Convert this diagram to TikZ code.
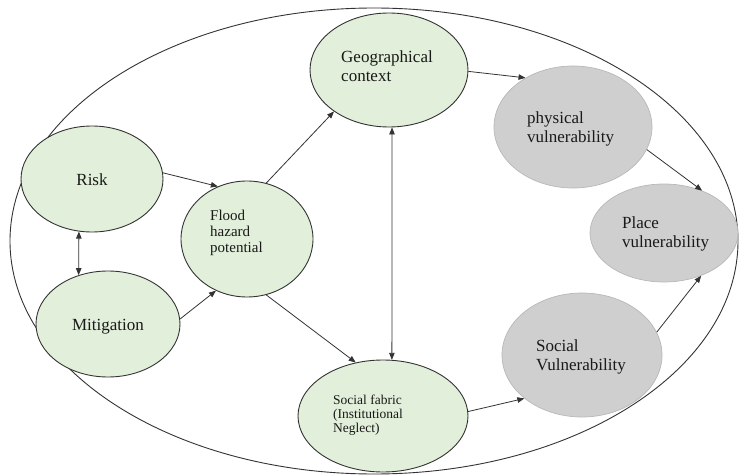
\documentclass[tikz,border=0pt]{standalone}
\usepackage{fontspec}
\setmainfont{Liberation Serif}
\usetikzlibrary{shapes.geometric,arrows.meta}
\definecolor{leaf}{HTML}{E2EFDA}
\definecolor{stone}{HTML}{CFCFCF}
\definecolor{stoneline}{HTML}{B8B8B8}
\definecolor{ink}{HTML}{333333}

\begin{document}
\begin{tikzpicture}[x=1pt,y=-1pt,
  greenbub/.style={ellipse, draw=ink, line width=0.9pt, fill=leaf, inner sep=0pt},
  greybub/.style={ellipse, draw=stoneline, line width=0.7pt, fill=stone, inner sep=0pt},
  lbl/.style={anchor=west, align=left, inner sep=0pt, text=black!90},
  big/.style={font=\fontsize{17}{18.5}\selectfont},
  mid/.style={font=\fontsize{15}{16}\selectfont},
  small/.style={font=\fontsize{13.5}{13.8}\selectfont},
  link/.style={draw=ink, line width=0.8pt, -{Triangle[length=7pt,width=5.5pt]}},
  twoway/.style={draw=ink, line width=0.8pt, {Triangle[length=7pt,width=5.5pt]}-{Triangle[length=7pt,width=5.5pt]}}
]
\useasboundingbox (0,0) rectangle (740,476);

% enclosing boundary
\draw[line width=0.9pt, ink] (374,241) ellipse [x radius=364, y radius=233];

% drivers
\node[greenbub, minimum width=142pt, minimum height=106pt] (risk) at (92,179) {};
\node[greenbub, minimum width=144pt, minimum height=106pt] (mit) at (108,324) {};
\node[greenbub, minimum width=132pt, minimum height=116pt] (flood) at (247,239) {};
\node[greenbub, minimum width=158pt, minimum height=114pt] (geo) at (389,70) {};
\node[greenbub, minimum width=170pt, minimum height=112pt] (fabric) at (383,416) {};

% vulnerabilities
\node[greybub, minimum width=158pt, minimum height=122pt] (phys) at (573,127) {};
\node[greybub, minimum width=160pt, minimum height=124pt] (socv) at (582,355) {};
\node[greybub, minimum width=148pt, minimum height=98pt] (place) at (664,233) {};

% labels
\node[big, inner sep=0pt, text=black!90] (risk-t) at (92,180) {Risk};
\node[big, inner sep=0pt, text=black!90] (mit-t) at (108,327) {Mitigation};
\node[lbl, mid] (flood-t) at (210,233) {Flood\\hazard\\potential};
\node[lbl, big] (geo-t) at (341,66) {Geographical\\context};
\node[lbl, big] (phys-t) at (527,129) {physical\\vulnerability};
\node[lbl, big] (place-t) at (622,234) {Place\\vulnerability};
\node[lbl, big] (socv-t) at (536,357) {Social\\Vulnerability};
\node[lbl, small] (fabric-t) at (333,415) {Social fabric\\(Institutional\\Neglect)};

% connectors
\draw[twoway] (risk.-104) -- (mit.121);
\draw[link] (risk.5) -- (flood.119);
\draw[link] (mit.4) -- (flood.-121);
\draw[link] (flood.71) -- (geo.217);
\draw[link] (flood.-71) -- (fabric.117);
\draw[twoway] (geo.-87) -- (fabric.81);
\draw[link] (geo.-1) -- (phys.134);
\draw[link] (phys.-17) -- (place.48);
\draw[link] (fabric.3) -- (socv.217);
\draw[link] (socv.17) -- (place.-49);
\end{tikzpicture}
\end{document}
